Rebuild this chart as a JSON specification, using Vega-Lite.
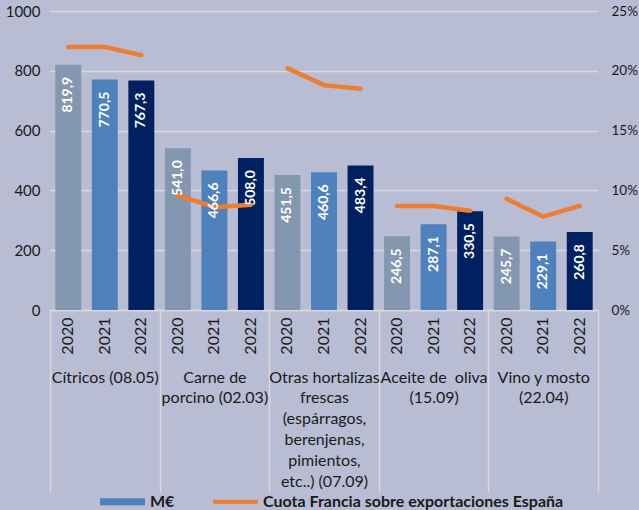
{
  "$schema": "https://vega.github.io/schema/vega-lite/v6.json",
  "width": 548,
  "height": 299,
  "autosize": {"type": "none"},
  "padding": {"left": 50, "top": 11, "right": 41, "bottom": 200},
  "background": "#b9bdd4",
  "config": {
    "view": {"stroke": null},
    "font": "Lato",
    "locale": {"number": {"decimal": ",", "thousands": ".", "grouping": [3], "currency": ["", " €"]}}
  },
  "data": {
    "values": [
      {"cat": "Cítricos (08.05)", "year": "2020", "v": 819.9, "s": 22.0},
      {"cat": "Cítricos (08.05)", "year": "2021", "v": 770.5, "s": 22.0},
      {"cat": "Cítricos (08.05)", "year": "2022", "v": 767.3, "s": 21.3},
      {"cat": "Carne de|porcino (02.03)", "year": "2020", "v": 541.0, "s": 9.6},
      {"cat": "Carne de|porcino (02.03)", "year": "2021", "v": 466.6, "s": 8.6},
      {"cat": "Carne de|porcino (02.03)", "year": "2022", "v": 508.0, "s": 8.8},
      {"cat": "Otras hortalizas|frescas|(espárragos,|berenjenas,|pimientos,|etc..) (07.09)", "year": "2020", "v": 451.5, "s": 20.2},
      {"cat": "Otras hortalizas|frescas|(espárragos,|berenjenas,|pimientos,|etc..) (07.09)", "year": "2021", "v": 460.6, "s": 18.8},
      {"cat": "Otras hortalizas|frescas|(espárragos,|berenjenas,|pimientos,|etc..) (07.09)", "year": "2022", "v": 483.4, "s": 18.5},
      {"cat": "Aceite de\u00a0 oliva|(15.09)", "year": "2020", "v": 246.5, "s": 8.7},
      {"cat": "Aceite de\u00a0 oliva|(15.09)", "year": "2021", "v": 287.1, "s": 8.7},
      {"cat": "Aceite de\u00a0 oliva|(15.09)", "year": "2022", "v": 330.5, "s": 8.3},
      {"cat": "Vino y mosto|(22.04)", "year": "2020", "v": 245.7, "s": 9.3},
      {"cat": "Vino y mosto|(22.04)", "year": "2021", "v": 229.1, "s": 7.8},
      {"cat": "Vino y mosto|(22.04)", "year": "2022", "v": 260.8, "s": 8.7}
    ]
  },
  "layer": [
    {
      "transform": [{"calculate": "datum.cat + '#' + datum.year", "as": "key"}],
      "encoding": {
        "x": {
          "field": "key", "type": "nominal", "sort": null,
          "scale": {"paddingInner": 0.29, "paddingOuter": 0.145},
          "axis": {
            "title": null, "labelAngle": 270, "labelExpr": "slice(datum.label, -4)",
            "ticks": false, "domainColor": "#d9d9d9", "domainWidth": 1.5,
            "labelPadding": 7, "labelFontSize": 16, "labelColor": "#1a1a1a",
            "labelFont": "Lato", "grid": false
          }
        }
      },
      "layer": [
        {
          "encoding": {
            "y": {
              "field": "v", "type": "quantitative",
              "scale": {"domain": [0, 1000], "nice": false},
              "axis": {
                "title": null, "values": [0, 200, 400, 600, 800, 1000], "format": "d",
                "domain": false, "ticks": false, "labelPadding": 10,
                "labelFontSize": 15, "labelColor": "#1a1a1a", "labelFont": "Lato",
                "gridColor": "#d9d9d9", "gridWidth": 1.5
              }
            }
          },
          "layer": [
            {
              "mark": {"type": "bar"},
              "encoding": {
                "color": {
                  "field": "year", "type": "nominal",
                  "scale": {"domain": ["2020", "2021", "2022"], "range": ["#8497b0", "#4f81bd", "#002060"]},
                  "legend": null
                }
              }
            }
          ]
        },
        {
          "mark": {"type": "line", "color": "#ed7d31", "strokeWidth": 4.5, "strokeCap": "round"},
          "encoding": {
            "y": {
              "field": "s", "type": "quantitative",
              "scale": {"domain": [0, 25], "nice": false},
              "axis": {
                "orient": "right", "title": null, "values": [0, 5, 10, 15, 20, 25],
                "labelExpr": "datum.value + '%'", "domain": false, "ticks": false, "grid": false,
                "labelPadding": 13, "labelFontSize": 13.5, "labelColor": "#1a1a1a", "labelFont": "Lato"
              }
            },
            "detail": {"field": "cat", "type": "nominal"}
          }
        },
        {
          "mark": {"type": "text", "angle": 270, "align": "right", "baseline": "middle", "dx": -12, "color": "white", "fontWeight": "bold", "fontSize": 14, "font": "Lato"},
          "encoding": {
            "y": {"field": "v", "type": "quantitative", "scale": {"domain": [0, 1000], "nice": false}, "axis": null},
            "text": {"field": "v", "type": "quantitative", "format": ".1f"}
          }
        }
      ],
      "resolve": {"scale": {"y": "independent"}}
    },
    {
      "mark": {"type": "rule", "strokeOpacity": 0},
      "encoding": {
        "x": {
          "field": "cat", "type": "nominal", "sort": null,
          "scale": {"paddingInner": 0, "paddingOuter": 0},
          "axis": {
            "title": null, "orient": "bottom", "tickBand": "extent", "tickSize": 182,
            "tickColor": "#d9d9d9", "tickWidth": 1.5, "domain": false,
            "labelPadding": -123, "labelAngle": 0, "labelBaseline": "top",
            "labelExpr": "split(datum.label, '|')", "labelLineHeight": 20.8,
            "labelFontSize": 16, "labelOverlap": false, "labelColor": "#1a1a1a",
            "labelFont": "Lato", "grid": false, "labelLimit": 300
          }
        }
      }
    },
    {
      "data": {"values": [{"lg": "M€"}, {"lg": "Cuota Francia sobre exportaciones España"}]},
      "mark": {"type": "point", "filled": true, "opacity": 0},
      "encoding": {
        "fill": {
          "field": "lg", "type": "nominal", "sort": null,
          "scale": {"domain": ["M€", "Cuota Francia sobre exportaciones España"], "range": ["#4f81bd", "#ed7d31"]},
          "legend": {
            "title": null, "orient": "none", "legendX": 50, "legendY": 468,
            "direction": "horizontal", "symbolSize": 2025, "labelOffset": 5,
            "columnPadding": 38, "symbolStrokeWidth": 0, "padding": 0,
            "symbolOpacity": 1, "labelFontSize": 16, "labelFontWeight": "bold",
            "labelColor": "#1a1a1a", "labelFont": "Lato", "labelLimit": 400,
            "encode": {"symbols": {"update": {"opacity": {"value": 1}, "fillOpacity": {"value": 1}}}}
          }
        },
        "shape": {
          "field": "lg", "type": "nominal", "sort": null,
          "scale": {"domain": ["M€", "Cuota Francia sobre exportaciones España"], "range": ["M-1,-0.16H1V0.16H-1Z", "M-1,-0.09H1V0.09H-1Z"]}
        }
      }
    }
  ],
  "resolve": {"scale": {"x": "independent", "y": "independent"}}
}
